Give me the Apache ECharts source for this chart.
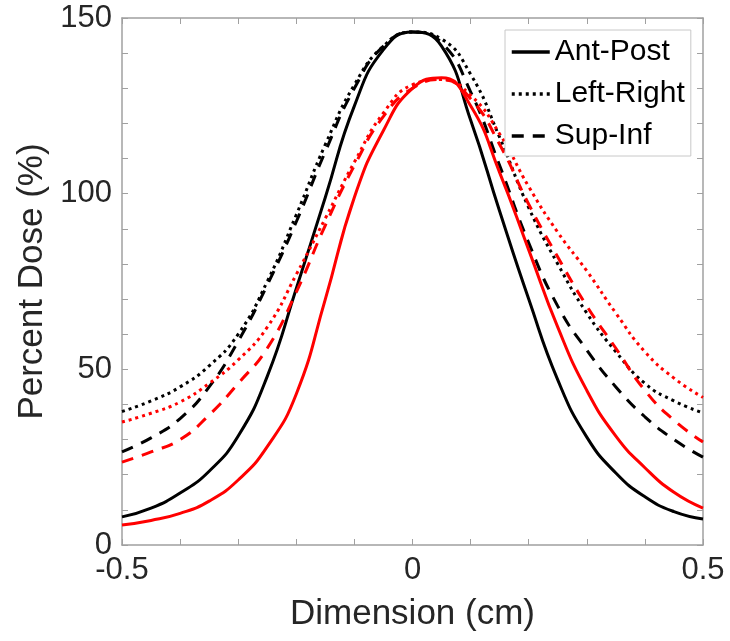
<!DOCTYPE html>
<html>
<head>
<meta charset="utf-8">
<script src="https://cdn.jsdelivr.net/npm/echarts@6/dist/echarts.min.js"></script>
<style>
  html, body { margin: 0; padding: 0; background: #fff; }
  #chart { width: 730px; height: 641px; }
</style>
</head>
<body>
<div id="chart"></div>
<script>
// positions along the profile (cm)
var xs = [-0.5, -0.45, -0.4, -0.35, -0.3, -0.25, -0.2, -0.15, -0.1, -0.05, 0,
          0.05, 0.1, 0.15, 0.2, 0.25, 0.3, 0.35, 0.4, 0.45, 0.5];

// black curves
var antPostBlack   = [8, 10.5, 14.8, 21, 31, 48, 73, 99, 125, 141, 146, 142, 121, 95, 70, 47, 30.7, 20.5, 13.7, 9.5, 7.4];
var leftRightBlack = [38, 41, 45, 51, 60, 75, 94, 114, 131, 142, 146, 144, 134, 116, 96, 80, 66, 55, 46, 41, 37.6];
var supInfBlack    = [26.5, 30.5, 36, 45, 58, 74, 92, 112, 130, 142, 146, 143, 129, 108, 86, 68, 55.5, 45, 36.5, 30, 25];

// red curves
var antPostRed   = [5.7, 7, 9, 12.5, 18.5, 28, 43, 70, 99, 118, 130, 133, 125, 106, 84, 62, 44, 31, 22, 15, 10.5];
var leftRightRed = [35, 37.5, 40.7, 46, 52.7, 62, 77, 93, 109, 123, 131, 132.5, 128, 117, 102, 89, 78, 66, 55, 47.5, 42];
var supInfRed    = [23.6, 26.5, 30, 37, 46, 56, 72, 91, 108, 122, 130, 132.5, 127, 114, 97, 82, 68, 56, 44, 35.5, 29.3];

var legendNames = ['Ant-Post', 'Left-Right', 'Sup-Inf'];

function pairs(ys) {
  var out = [];
  for (var i = 0; i < xs.length; i++) out.push([xs[i], ys[i]]);
  return out;
}

function line(name, ys, color, dash) {
  return {
    name: name,
    type: 'line',
    data: pairs(ys),
    smooth: true,
    showSymbol: false,
    symbol: 'none',
    lineStyle: { color: color, width: 3, type: dash },
    itemStyle: { color: color }
  };
}

var axisGray = '#a0a0a0';
var textColor = '#262626';
var fontFam = '"Liberation Sans", Arial, sans-serif';

var option = {
  animation: false,
  backgroundColor: '#fff',
  grid: { left: 122, right: 27, top: 18, bottom: 96 },
  legend: {
    data: legendNames,
    orient: 'vertical',
    left: 505,
    top: 30,
    padding: [7, 6, 5, 5],
    itemWidth: 38,
    itemHeight: 14,
    itemGap: 12,
    itemStyle: { opacity: 0 },
    lineStyle: { width: 3.5 },
    backgroundColor: '#fff',
    borderColor: '#c8c8c8',
    borderWidth: 1,
    textStyle: { fontSize: 30, color: '#000', fontFamily: fontFam }
  },
  xAxis: [{
    type: 'value',
    min: -0.5,
    max: 0.5,
    interval: 0.1,
    name: 'Dimension (cm)',
    nameLocation: 'middle',
    nameGap: 52,
    nameTextStyle: { fontSize: 35, color: textColor, fontFamily: fontFam },
    axisLine: { onZero: false, lineStyle: { color: axisGray, width: 1.5 } },
    axisTick: { inside: true, length: 6, lineStyle: { color: axisGray } },
    splitLine: { show: false },
    axisLabel: {
      fontSize: 31, color: textColor, fontFamily: fontFam, margin: 10,
      formatter: function (v) {
        var r = Math.round(v * 10) / 10;
        return (r === -0.5 || r === 0 || r === 0.5) ? String(r) : '';
      }
    }
  }, {
    type: 'value',
    position: 'top',
    min: -0.5,
    max: 0.5,
    interval: 0.1,
    axisLine: { onZero: false, lineStyle: { color: axisGray, width: 1.5 } },
    axisTick: { inside: true, length: 6, lineStyle: { color: axisGray } },
    axisLabel: { show: false },
    splitLine: { show: false }
  }],
  yAxis: [{
    type: 'value',
    min: 0,
    max: 150,
    interval: 10,
    name: 'Percent Dose (%)',
    nameLocation: 'middle',
    nameGap: 72,
    nameTextStyle: { fontSize: 35, color: textColor, fontFamily: fontFam },
    axisLine: { show: true, onZero: false, lineStyle: { color: axisGray, width: 1.5 } },
    axisTick: { show: true, inside: true, length: 6, lineStyle: { color: axisGray } },
    splitLine: { show: false },
    axisLabel: {
      fontSize: 31, color: textColor, fontFamily: fontFam, margin: 10,
      formatter: function (v) { return v % 50 === 0 ? String(v) : ''; }
    }
  }, {
    type: 'value',
    position: 'right',
    min: 0,
    max: 150,
    interval: 10,
    axisLine: { show: true, onZero: false, lineStyle: { color: axisGray, width: 1.5 } },
    axisTick: { show: true, inside: true, length: 6, lineStyle: { color: axisGray } },
    axisLabel: { show: false },
    splitLine: { show: false }
  }],
  series: [
    line('Ant-Post', antPostBlack, '#000', 'solid'),
    line('Left-Right', leftRightBlack, '#000', [3, 4]),
    line('Sup-Inf', supInfBlack, '#000', [12, 9]),
    line('Ant-Post red', antPostRed, '#ff0000', 'solid'),
    line('Left-Right red', leftRightRed, '#ff0000', [3, 4]),
    line('Sup-Inf red', supInfRed, '#ff0000', [12, 9])
  ]
};

var myChart = echarts.init(document.getElementById('chart'));
myChart.setOption(option);
</script>
</body>
</html>
